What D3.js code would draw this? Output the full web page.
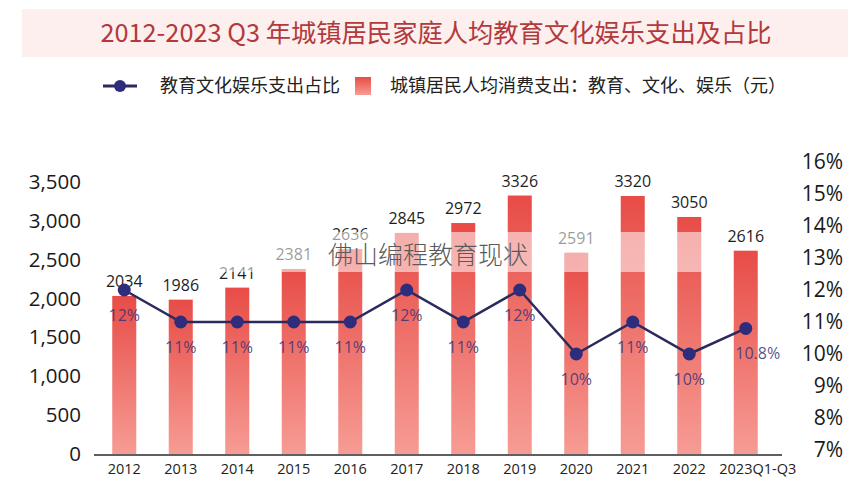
<!DOCTYPE html>
<html>
<head>
<meta charset="utf-8">
<script src="https://cdn.jsdelivr.net/npm/d3@7"></script>
<style>
  html, body { margin: 0; padding: 0; background: #fff; }
  svg { display: block; font-family: "Open Sans", "Noto Sans CJK SC", sans-serif; }
</style>
</head>
<body>
<svg id="chart" width="857" height="490"></svg>
<script>
// ---- data ----
const categories = ["2012","2013","2014","2015","2016","2017","2018","2019","2020","2021","2022","2023Q1-Q3"];
const spending = [2034, 1986, 2141, 2381, 2636, 2845, 2972, 3326, 2591, 3320, 3050, 2616];
const share = [12, 11, 11, 11, 11, 12, 11, 12, 10, 11, 10, 10.8];
const leftTicks = [0, 500, 1000, 1500, 2000, 2500, 3000, 3500];
const rightTicks = [7, 8, 9, 10, 11, 12, 13, 14, 15, 16];
const titleText = "2012-2023 Q3 年城镇居民家庭人均教育文化娱乐支出及占比";
const legendLine = "教育文化娱乐支出占比";
const legendBar = "城镇居民人均消费支出：教育、文化、娱乐（元）";
const watermark = "佛山编程教育现状";

const svg = d3.select("#chart");
const cjk = '"Noto Sans CJK SC", sans-serif';
const lastCat = categories[categories.length - 1];
const shiftLast = c => (c === lastCat ? 12 : 0);

// gradient
const defs = svg.append("defs");
const grad = defs.append("linearGradient").attr("id", "barGrad")
  .attr("x1", 0).attr("y1", 0).attr("x2", 0).attr("y2", 1);
grad.append("stop").attr("offset", "0%").attr("stop-color", "#e84c47");
grad.append("stop").attr("offset", "100%").attr("stop-color", "#f69c94");

// title
svg.append("rect").attr("x", 22).attr("y", 9).attr("width", 826).attr("height", 48)
  .attr("fill", "#fcefee");
svg.append("text").attr("x", 436).attr("y", 42).attr("text-anchor", "middle")
  .attr("font-family", cjk).attr("font-size", 25.3).attr("fill", "#b23a3c")
  .text(titleText);

// legend
svg.append("line").attr("x1", 103).attr("x2", 137).attr("y1", 86).attr("y2", 86)
  .attr("stroke", "#2b2a5c").attr("stroke-width", 3);
svg.append("circle").attr("cx", 120).attr("cy", 86).attr("r", 6).attr("fill", "#2e2d7c");
svg.append("text").attr("x", 160).attr("y", 92).attr("font-family", cjk)
  .attr("font-size", 18).attr("fill", "#222").text(legendLine);
svg.append("rect").attr("x", 355).attr("y", 77).attr("width", 16).attr("height", 18)
  .attr("fill", "url(#barGrad)");
svg.append("text").attr("x", 390).attr("y", 92).attr("font-family", cjk)
  .attr("font-size", 18).attr("fill", "#222").text(legendBar);

// scales
const x = d3.scaleBand().domain(categories).range([96, 774])
  .paddingInner(0.575).paddingOuter(0.2875);
const yL = d3.scaleLinear().domain([0, 3500]).range([454, 182]);
const yR = d3.scaleLinear().domain([7, 16]).range([450, 162]);

// left axis
const axL = svg.append("g").attr("transform", "translate(81,0)")
  .call(d3.axisLeft(yL).tickValues(leftTicks).tickFormat(d3.format(",")).tickSize(0).tickPadding(0));
axL.select(".domain").remove();
axL.selectAll("text").attr("font-size", 20.5).attr("fill", "#1a1a1a")
  .attr("font-family", '"Open Sans", sans-serif');

// right axis
const axR = svg.append("g").attr("transform", "translate(843,0)")
  .call(d3.axisLeft(yR).tickValues(rightTicks).tickFormat(d => d + "%").tickSize(0).tickPadding(0));
axR.select(".domain").remove();
axR.selectAll("text").attr("font-size", 21).attr("fill", "#1a1a1a")
  .attr("font-family", '"Open Sans", sans-serif');

// bars
svg.append("g").selectAll("rect").data(spending).join("rect")
  .attr("x", (d, i) => x(categories[i]))
  .attr("y", d => yL(d))
  .attr("width", x.bandwidth())
  .attr("height", d => yL(0) - yL(d))
  .attr("fill", "url(#barGrad)");

// bar labels
svg.append("g").selectAll("text").data(spending).join("text")
  .attr("x", (d, i) => x(categories[i]) + x.bandwidth() / 2)
  .attr("y", d => yL(d) - 9)
  .attr("text-anchor", "middle")
  .attr("font-size", 16).attr("fill", "#1e1e1e")
  .text(d => d);

// x axis
const axX = svg.append("g").attr("transform", "translate(0,455)")
  .call(d3.axisBottom(x).tickSize(0).tickPadding(9));
axX.select(".domain").attr("d", "M94,0H782").attr("stroke", "#2a2a2a").attr("stroke-width", 1.5);
axX.selectAll("text").attr("font-size", 14.5).attr("fill", "#222")
  .attr("font-family", '"Open Sans", sans-serif')
  .attr("dx", d => shiftLast(d));

// watermark band
svg.append("rect").attr("x", 125).attr("y", 232).attr("width", 595).attr("height", 40)
  .attr("fill", "#fff").attr("fill-opacity", 0.55);

// line
const cx = (i) => x(categories[i]) + x.bandwidth() / 2;
const line = d3.line().x((d, i) => cx(i)).y(d => yR(d));
svg.append("path").datum(share).attr("d", line)
  .attr("fill", "none").attr("stroke", "#2b2a5c").attr("stroke-width", 2.5);
svg.append("g").selectAll("circle").data(share).join("circle")
  .attr("cx", (d, i) => cx(i)).attr("cy", d => yR(d)).attr("r", 6.5)
  .attr("fill", "#2e2d7c");
svg.append("g").selectAll("text").data(share).join("text")
  .attr("x", (d, i) => cx(i) + shiftLast(categories[i]))
  .attr("y", d => yR(d) + 31)
  .attr("text-anchor", "middle")
  .attr("font-size", 16).attr("fill", "#36337a").attr("fill-opacity", 0.85)
  .text(d => d + "%");

// watermark text
svg.append("text").attr("x", 428).attr("y", 264).attr("text-anchor", "middle")
  .attr("font-family", cjk).attr("font-size", 25).attr("font-weight", 300).attr("fill", "#5a5a5a")
  .text(watermark);
</script>
</body>
</html>
